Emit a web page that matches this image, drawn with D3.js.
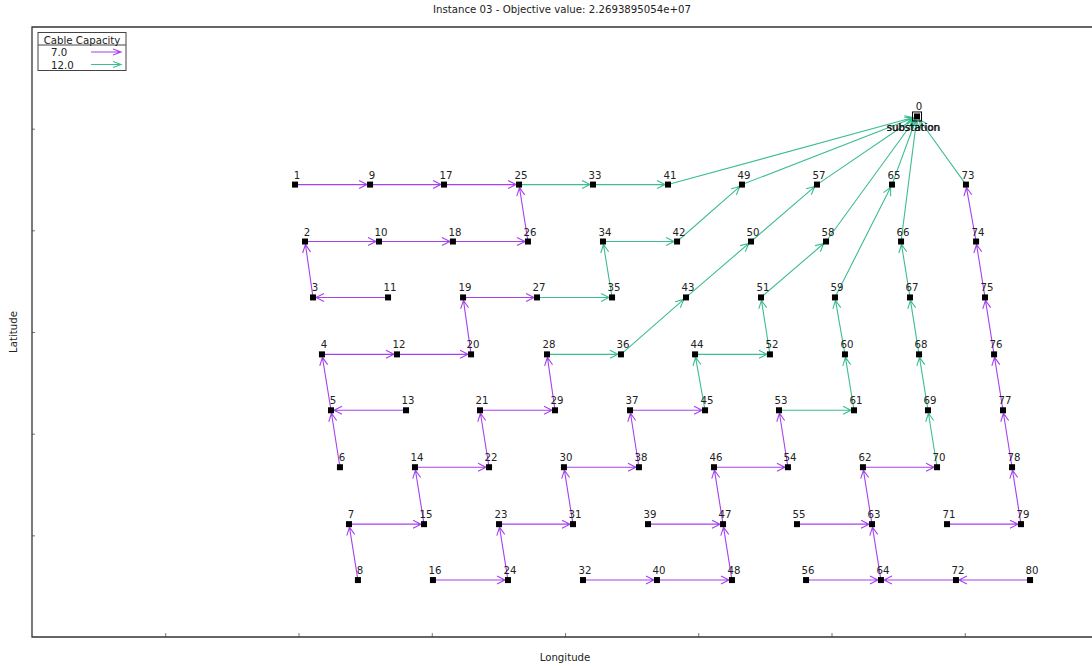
<!DOCTYPE html>
<html>
<head>
<meta charset="utf-8">
<script src="https://cdn.jsdelivr.net/npm/d3@7"></script>
<style>
  html, body { margin: 0; padding: 0; background: #fff; }
  svg { display: block; font-family: "DejaVu Sans", sans-serif; }
</style>
</head>
<body>
<svg id="chart" width="1092" height="666"></svg>
<script>
// Node coordinates (index = node id, 0 = substation)
const nodeLon = [6.642,
  1.974, 2.049, 2.109, 2.176, 2.244, 2.311, 2.379, 2.446,
  2.537, 2.604, 2.672, 2.739, 2.807, 2.874, 2.942, 3.009,
  3.092, 3.159, 3.235, 3.295, 3.362, 3.430, 3.505, 3.572,
  3.655, 3.722, 3.790, 3.865, 3.925, 3.992, 4.060, 4.135,
  4.210, 4.285, 4.353, 4.420, 4.488, 4.555, 4.623, 4.690,
  4.773, 4.841, 4.908, 4.976, 5.051, 5.118, 5.186, 5.253,
  5.328, 5.396, 5.471, 5.538, 5.606, 5.673, 5.741, 5.809,
  5.891, 5.959, 6.026, 6.101, 6.169, 6.236, 6.304, 6.371,
  6.454, 6.522, 6.589, 6.657, 6.724, 6.792, 6.867, 6.934,
  7.009, 7.085, 7.152, 7.220, 7.287, 7.355, 7.422, 7.490];
const nodeLat = [5.12,
  4.45, 3.89, 3.34, 2.78, 2.23, 1.67, 1.11, 0.56,
  4.45, 3.89, 3.34, 2.78, 2.23, 1.67, 1.11, 0.56,
  4.45, 3.89, 3.34, 2.78, 2.23, 1.67, 1.11, 0.56,
  4.45, 3.89, 3.34, 2.78, 2.23, 1.67, 1.11, 0.56,
  4.45, 3.89, 3.34, 2.78, 2.23, 1.67, 1.11, 0.56,
  4.45, 3.89, 3.34, 2.78, 2.23, 1.67, 1.11, 0.56,
  4.45, 3.89, 3.34, 2.78, 2.23, 1.67, 1.11, 0.56,
  4.45, 3.89, 3.34, 2.78, 2.23, 1.67, 1.11, 0.56,
  4.45, 3.89, 3.34, 2.78, 2.23, 1.67, 1.11, 0.56,
  4.45, 3.89, 3.34, 2.78, 2.23, 1.67, 1.11, 0.56];

// Cable routes: from -> to, with installed capacity
const edgeFrom = [1, 9, 17, 26, 2, 10, 18, 3, 11, 4, 12, 20, 19, 5, 13, 6, 21, 29, 22, 14, 15, 7, 8, 16, 24, 23, 31, 30, 38, 37, 39, 32, 40, 48, 47, 46, 54, 55, 56, 64, 63, 62, 80, 72, 71, 79, 78, 77, 76, 75, 74,
  25, 33, 41, 27, 35, 34, 42, 49, 28, 36, 43, 50, 57, 45, 44, 52, 51, 58, 53, 61, 60, 59, 65, 70, 69, 68, 67, 66, 73];
const edgeTo = [9, 17, 25, 25, 10, 18, 26, 2, 3, 12, 20, 19, 27, 4, 5, 5, 29, 28, 21, 22, 14, 15, 7, 24, 23, 31, 30, 38, 37, 45, 47, 40, 48, 47, 46, 54, 53, 63, 64, 63, 62, 70, 72, 64, 79, 78, 77, 76, 75, 74, 73,
  33, 41, 0, 35, 34, 42, 49, 0, 36, 43, 50, 57, 0, 44, 52, 51, 58, 0, 61, 60, 59, 65, 0, 69, 68, 67, 66, 0, 0];
const edgeCap = [7, 7, 7, 7, 7, 7, 7, 7, 7, 7, 7, 7, 7, 7, 7, 7, 7, 7, 7, 7, 7, 7, 7, 7, 7, 7, 7, 7, 7, 7, 7, 7, 7, 7, 7, 7, 7, 7, 7, 7, 7, 7, 7, 7, 7, 7, 7, 7, 7, 7, 7,
  12, 12, 12, 12, 12, 12, 12, 12, 12, 12, 12, 12, 12, 12, 12, 12, 12, 12, 12, 12, 12, 12, 12, 12, 12, 12, 12, 12, 12];

const capacities = [7.0, 12.0];
const capLabels = ["7.0", "12.0"];
const capColors = ["#a641ee", "#3cbd92"];
const xTicks = [1, 2, 3, 4, 5, 6, 7];
const yTicks = [1, 2, 3, 4, 5];
const titleText = "Instance 03 - Objective value: 2.2693895054e+07";

const FS = 10.2;
const svg = d3.select("#chart");
const plotL = 32, plotR = 1098, plotT = 27, plotB = 637;
const x = d3.scaleLinear().domain([0, 8]).range([plotL, plotR]);
const y = d3.scaleLinear().domain([0, 6]).range([plotB, plotT]);
const color = d3.scaleOrdinal().domain(capacities).range(capColors);

// Title and axis labels
svg.append("text").attr("x", 562).attr("y", 13).attr("text-anchor", "middle")
  .attr("font-size", FS).attr("fill", "#222").text(titleText);
svg.append("text").attr("x", (plotL + plotR) / 2).attr("y", 661).attr("text-anchor", "middle")
  .attr("font-size", FS).attr("fill", "#222").text("Longitude");
svg.append("text").attr("transform", "translate(17," + (plotT + plotB) / 2 + ") rotate(-90)")
  .attr("text-anchor", "middle").attr("font-size", FS).attr("fill", "#222").text("Latitude");

// Axes with inward ticks and no labels
const xAxis = d3.axisBottom(x).tickValues(xTicks).tickSize(-4).tickFormat("");
const yAxis = d3.axisLeft(y).tickValues(yTicks).tickSize(-3).tickFormat("");
const gx = svg.append("g").attr("transform", `translate(0,${plotB})`).call(xAxis);
const gy = svg.append("g").attr("transform", `translate(${plotL},0)`).call(yAxis);
[gx, gy].forEach(g => {
  g.select(".domain").remove();
  g.selectAll(".tick line").attr("stroke", "#555").attr("stroke-width", 0.8);
});
// Frame
svg.append("path")
  .attr("d", `M${plotR},${plotT}H${plotL}V${plotB}H${plotR}`)
  .attr("fill", "none").attr("stroke", "#333").attr("stroke-width", 1.3);

// Arrow path: shaft from source to tip, plus an open head
function arrowPath(x1, y1, x2, y2, shrink, headLen, headHalf) {
  const dx = x2 - x1, dy = y2 - y1;
  const len = Math.hypot(dx, dy);
  const ux = dx / len, uy = dy / len;
  const tx = x2 - ux * shrink, ty = y2 - uy * shrink;
  const bx = tx - ux * headLen, by = ty - uy * headLen;
  const px = -uy * headHalf, py = ux * headHalf;
  return `M${x1},${y1}L${tx},${ty}` +
    `M${bx + px},${by + py}L${tx},${ty}L${bx - px},${by - py}`;
}

const edges = edgeFrom.map((f, i) => ({ from: f, to: edgeTo[i], cap: edgeCap[i] }));
svg.append("g").selectAll("path").data(edges).join("path")
  .attr("d", d => arrowPath(x(nodeLon[d.from]), y(nodeLat[d.from]),
    x(nodeLon[d.to]), y(nodeLat[d.to]), d.to === 0 ? 4 : 3, 8, 4))
  .attr("fill", "none")
  .attr("stroke", d => color(d.cap))
  .attr("stroke-width", 1.1)
  .attr("stroke-linejoin", "miter");

// Turbine markers and labels
const ids = d3.range(1, nodeLon.length);
svg.append("g").selectAll("rect").data(ids).join("rect")
  .attr("x", d => x(nodeLon[d]) - 3).attr("y", d => y(nodeLat[d]) - 3)
  .attr("width", 6).attr("height", 6).attr("fill", "#000");
svg.append("g").selectAll("text").data(ids).join("text")
  .attr("x", d => x(nodeLon[d]) + 2).attr("y", d => y(nodeLat[d]) - 6)
  .attr("text-anchor", "middle").attr("font-size", FS).attr("fill", "#222")
  .text(d => d);

// Substation
const sx = x(nodeLon[0]), sy = y(nodeLat[0]);
svg.append("rect").attr("x", sx - 4.5).attr("y", sy - 4.5).attr("width", 9).attr("height", 9)
  .attr("fill", "none").attr("stroke", "#000").attr("stroke-width", 1);
svg.append("rect").attr("x", sx - 3).attr("y", sy - 3).attr("width", 6).attr("height", 6).attr("fill", "#000");
svg.append("text").attr("x", sx + 2).attr("y", sy - 6).attr("text-anchor", "middle")
  .attr("font-size", FS).attr("fill", "#222").text("0");
[0, 0.7].forEach(off => {
  svg.append("text").attr("x", sx - 4 + off).attr("y", sy + 14.5).attr("text-anchor", "middle")
    .attr("font-size", FS).attr("fill", "#111").text("substation");
});

// Legend
const lg = svg.append("g");
lg.append("rect").attr("x", 38).attr("y", 32.5).attr("width", 88).attr("height", 38)
  .attr("fill", "#fff").attr("stroke", "#444").attr("stroke-width", 1);
lg.append("line").attr("x1", 38).attr("x2", 126).attr("y1", 45).attr("y2", 45)
  .attr("stroke", "#444").attr("stroke-width", 1);
lg.append("text").attr("x", 82).attr("y", 43.5).attr("text-anchor", "middle")
  .attr("font-size", FS).attr("fill", "#222").text("Cable Capacity");
capacities.forEach((c, i) => {
  const ry = 52 + i * 12.5;
  lg.append("text").attr("x", 51).attr("y", ry + 4).attr("font-size", FS).attr("fill", "#222")
    .text(capLabels[i]);
  lg.append("path").attr("d", arrowPath(91, ry, 121, ry, 0, 8, 3))
    .attr("fill", "none").attr("stroke", color(c)).attr("stroke-width", 1.1);
});
</script>
</body>
</html>
